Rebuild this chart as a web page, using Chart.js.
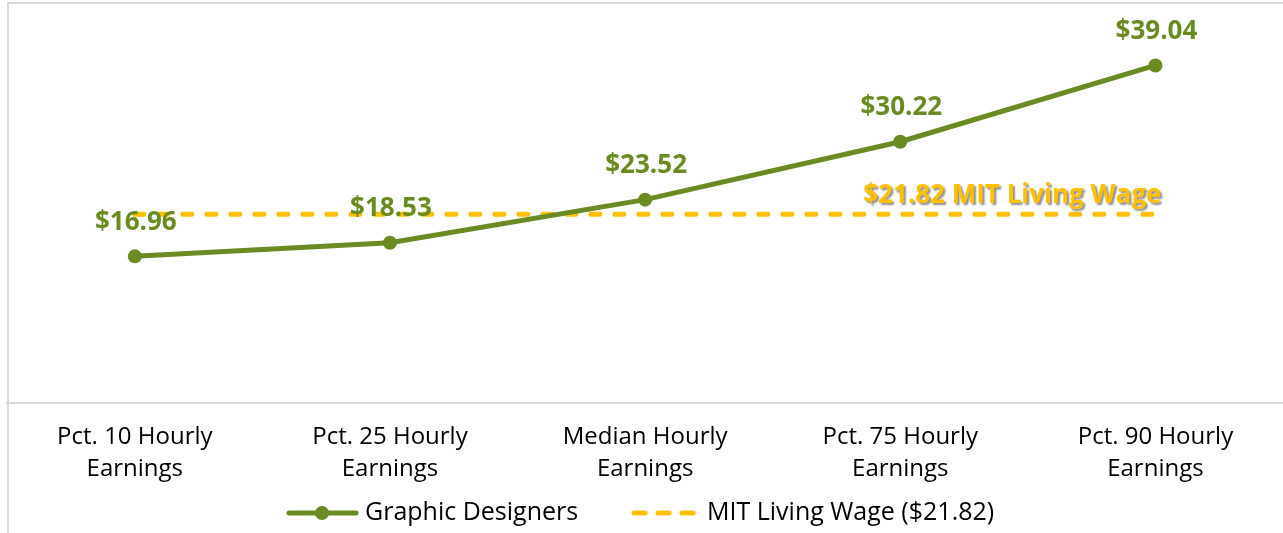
<!DOCTYPE html>
<html>
<head>
<meta charset="utf-8">
<script src="https://cdn.jsdelivr.net/npm/chart.js@4/dist/chart.umd.min.js"></script>
<style>
    html, body { margin: 0; padding: 0; background: #fff; overflow: hidden; width: 1283px; height: 533px; }
    #frame { position: absolute; left: 7px; top: 2px; width: 1300px; height: 560px; border-left: 2px solid #d9d9d9; border-top: 2px solid #d9d9d9; }
    #wrap { position: absolute; left: 0; top: 0; width: 1290px; height: 533px; }
</style>
</head>
<body>
<div id="frame"></div>
<div id="wrap"><canvas id="chart-earnings" width="1290" height="533"></canvas></div>
<script>
const categories = [
    ["Pct. 10 Hourly", "Earnings"],
    ["Pct. 25 Hourly", "Earnings"],
    ["Median Hourly", "Earnings"],
    ["Pct. 75 Hourly", "Earnings"],
    ["Pct. 90 Hourly", "Earnings"],
];
const designerWages = [16.96, 18.53, 23.52, 30.22, 39.04];
const livingWage = 21.82;
const livingWageLine = categories.map(() => livingWage);
const seriesNames = ["Graphic Designers", "MIT Living Wage ($21.82)"];
const livingWageNote = "$21.82 MIT Living Wage";

const GREEN = "#6a8b22";
const GOLD = "#ffc000";
const FONT = "'Open Sans', Lato, sans-serif";

// values above each green point
const valueLabels = {
    id: "valueLabels",
    afterDatasetsDraw(chart) {
        const ctx = chart.ctx;
        const meta = chart.getDatasetMeta(0);
        ctx.save();
        ctx.font = "bold 26px " + FONT;
        ctx.fillStyle = GREEN;
        ctx.textAlign = "center";
        ctx.textBaseline = "middle";
        meta.data.forEach((pt, i) => {
            ctx.fillText("$" + designerWages[i].toFixed(2), pt.x + 1, pt.y - 34);
        });
        ctx.restore();
    },
};

// note over the end of the living wage line
const wageNote = {
    id: "wageNote",
    afterDatasetsDraw(chart) {
        const ctx = chart.ctx;
        const meta = chart.getDatasetMeta(1);
        const last = meta.data[meta.data.length - 1];
        ctx.save();
        ctx.font = "bold 26px " + FONT;
        ctx.fillStyle = GOLD;
        ctx.textAlign = "right";
        ctx.textBaseline = "middle";
        ctx.shadowColor = "rgba(0,0,0,0.45)";
        ctx.shadowOffsetX = 2;
        ctx.shadowOffsetY = 2;
        ctx.shadowBlur = 2;
        ctx.fillText(livingWageNote, last.x + 6, last.y - 19);
        ctx.restore();
    },
};

// legend drawn under the axis labels
const bottomLegend = {
    id: "bottomLegend",
    afterDraw(chart) {
        const ctx = chart.ctx;
        const y = 513;
        ctx.save();
        ctx.lineCap = "round";
        ctx.lineWidth = 5;
        ctx.strokeStyle = GREEN;
        ctx.beginPath();
        ctx.moveTo(289, y);
        ctx.lineTo(356, y);
        ctx.stroke();
        ctx.fillStyle = GREEN;
        ctx.beginPath();
        ctx.arc(322, y, 7, 0, Math.PI * 2);
        ctx.fill();

        ctx.strokeStyle = GOLD;
        ctx.setLineDash([11, 13]);
        ctx.beginPath();
        ctx.moveTo(634, y);
        ctx.lineTo(697, y);
        ctx.stroke();
        ctx.setLineDash([]);

        ctx.font = "25px " + FONT;
        ctx.fillStyle = "#000";
        ctx.textAlign = "left";
        ctx.textBaseline = "middle";
        ctx.fillText(seriesNames[0], 365, y);
        ctx.fillText(seriesNames[1], 707, y);
        ctx.restore();
    },
};

const chartEarnings = new Chart(document.getElementById("chart-earnings"), {
    type: "line",
    data: {
        labels: categories,
        datasets: [
            {
                label: seriesNames[0],
                data: designerWages,
                borderColor: GREEN,
                backgroundColor: GREEN,
                borderWidth: 5,
                pointRadius: 7,
                pointBorderWidth: 0,
                pointBackgroundColor: GREEN,
                tension: 0,
                clip: false,
            },
            {
                label: seriesNames[1],
                data: livingWageLine,
                borderColor: GOLD,
                borderWidth: 5,
                borderDash: [9, 15],
                borderCapStyle: "round",
                pointRadius: 0,
                tension: 0,
                clip: false,
            },
        ],
    },
    options: {
        responsive: false,
        animation: false,
        layout: {
            padding: { left: 7.25, right: 5.25, top: 3, bottom: 30 },
        },
        plugins: {
            legend: { display: false },
            tooltip: { enabled: false },
        },
        scales: {
            x: {
                offset: true,
                grid: { display: false, drawTicks: false },
                border: { display: true, color: "#d9d9d9", width: 2 },
                ticks: {
                    color: "#000",
                    padding: 18,
                    maxRotation: 0,
                    autoSkip: false,
                    font: { family: FONT, size: 24, lineHeight: 32 / 24 },
                },
            },
            y: {
                display: false,
                min: 0,
                max: 45.8,
            },
        },
    },
    plugins: [valueLabels, wageNote, bottomLegend],
});
</script>
</body>
</html>
